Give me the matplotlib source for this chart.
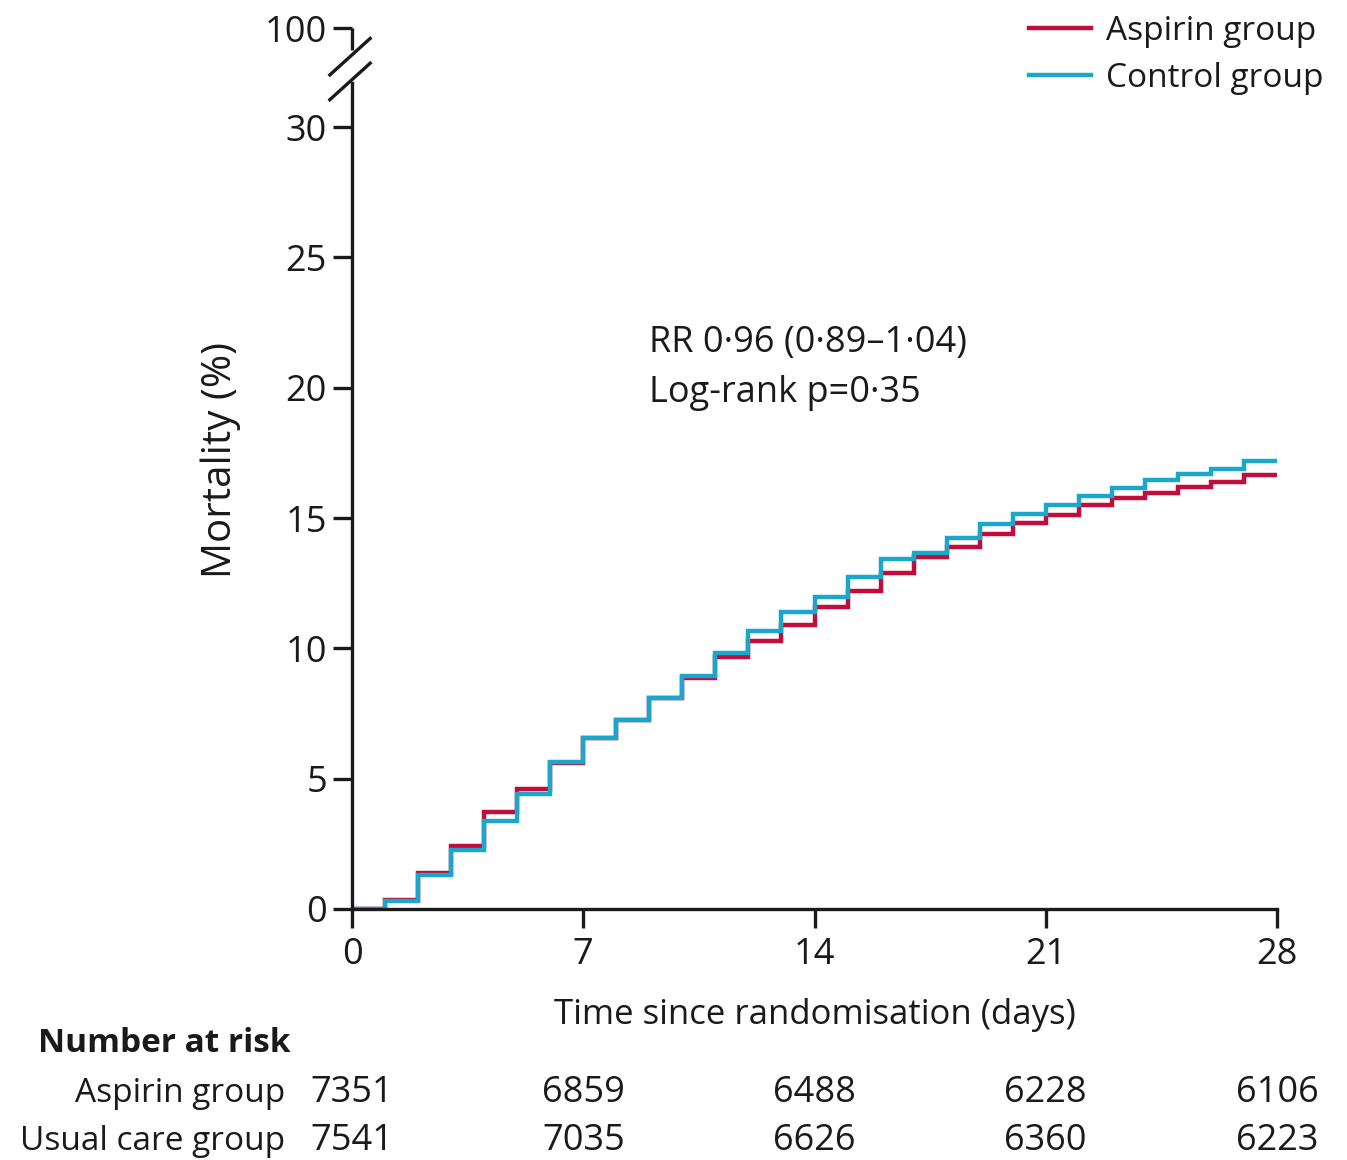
import numpy as np
import matplotlib
matplotlib.use("Agg")
import matplotlib.pyplot as plt
import matplotlib.transforms as mtransforms

plt.rcParams['font.family'] = ['Open Sans', 'DejaVu Sans']

# data (mortality % per day interval)
days = np.arange(0, 29)
aspirin = [0, 0.35, 1.37, 2.43, 3.72, 4.6, 5.6, 6.55, 7.27, 8.1, 8.85, 9.67, 10.28, 10.9,
           11.57, 12.2, 12.88, 13.49, 13.9, 14.4, 14.8, 15.1, 15.5, 15.75, 15.96, 16.2, 16.4, 16.65]
control = [0, 0.3, 1.3, 2.26, 3.37, 4.4, 5.65, 6.57, 7.27, 8.1, 8.95, 9.83, 10.67, 11.38,
           11.98, 12.72, 13.42, 13.64, 14.22, 14.77, 15.15, 15.5, 15.84, 16.15, 16.45, 16.7, 16.9, 17.2]

xticks = [0, 7, 14, 21, 28]
yticks = [0, 5, 10, 15, 20, 25, 30]
risk_groups = ["Aspirin group", "Usual care group"]
risk_aspirin = [7351, 6859, 6488, 6228, 6106]
risk_usual = [7541, 7035, 6626, 6360, 6223]

RED = "#C20C3C"
BLUE = "#1AA7CB"
AXC = "#1a1a1a"
FS = 24
TFS = 26

# broken axis: "100" drawn just above 30
Y100 = 33.8      # where the 100 tick sits
BRK_LO = 31.7    # spine top below the break
BRK_HI = 32.95   # spine bottom above the break

fig = plt.figure(figsize=(13.47, 11.6), dpi=100)
ax = fig.add_axes([352/1347, 251/1160, 925/1347, 881/1160])

ax.step(days, aspirin + [aspirin[-1]], where='post', color=RED, lw=3.2, solid_joinstyle='miter')
ax.step(days, control + [control[-1]], where='post', color=BLUE, lw=3.2, solid_joinstyle='miter')

ax.set_xlim(0, 28)
ax.set_ylim(0, Y100)

for s in ['top', 'right']:
    ax.spines[s].set_visible(False)
for s in ['left', 'bottom']:
    ax.spines[s].set_linewidth(2.4)
    ax.spines[s].set_color(AXC)
ax.spines['left'].set_bounds(0, BRK_LO)
ax.plot([0, 0], [BRK_HI, Y100], color=AXC, lw=2.4, clip_on=False, solid_capstyle='butt')

ax.set_xticks(xticks)
ax.set_yticks(yticks + [Y100])
ax.set_yticklabels([str(t) for t in yticks] + ["100"])
ax.tick_params(axis='both', direction='out', length=14, width=2.4, color=AXC,
               labelsize=TFS, labelcolor=AXC)
ax.tick_params(axis='x', pad=6)
ax.tick_params(axis='y', pad=4)

# break slashes
for yc in [31.75, 32.7]:
    ax.plot([-0.67, 0.55], [yc - 0.7, yc + 0.7], color=AXC, lw=2.4, clip_on=False)

ax.set_xlabel("Time since randomisation (days)", fontsize=25, color=AXC, labelpad=18)
ax.set_ylabel("Mortality (%)", fontsize=29, color=AXC)
ax.yaxis.set_label_coords(-0.12, 0.51)

ax.text(9.0, 21.7, "RR 0·96 (0·89–1·04)", fontsize=26, color=AXC, va='center')
ax.text(9.0, 19.8, "Log-rank p=0·35", fontsize=26, color=AXC, va='center')

# legend
leg = ax.legend(["Aspirin group", "Control group"], loc='upper right',
                bbox_to_anchor=(1340/1347, 1162/1160), bbox_transform=fig.transFigure,
                frameon=False, fontsize=FS, handlelength=1.85, handletextpad=0.45,
                labelspacing=0.43, borderaxespad=0.1)
for t in leg.get_texts():
    t.set_color(AXC)

# number at risk table
tr = mtransforms.blended_transform_factory(ax.transData, fig.transFigure)
fig.text(38/1347, 1 - 1043/1160, "Number at risk", fontsize=FS, fontweight='bold',
         color=AXC, va='center', ha='left')
for row, (name, vals) in enumerate(zip(risk_groups, [risk_aspirin, risk_usual])):
    yf = 1 - (1093 + 48 * row) / 1160
    fig.text(285/1347, yf, name, fontsize=FS, color=AXC, va='center', ha='right')
    for xt, v in zip(xticks, vals):
        ax.text(xt, yf, str(v), transform=tr, fontsize=26, color=AXC, va='center',
                ha='center', clip_on=False)

fig.savefig("out.png", dpi=100)
